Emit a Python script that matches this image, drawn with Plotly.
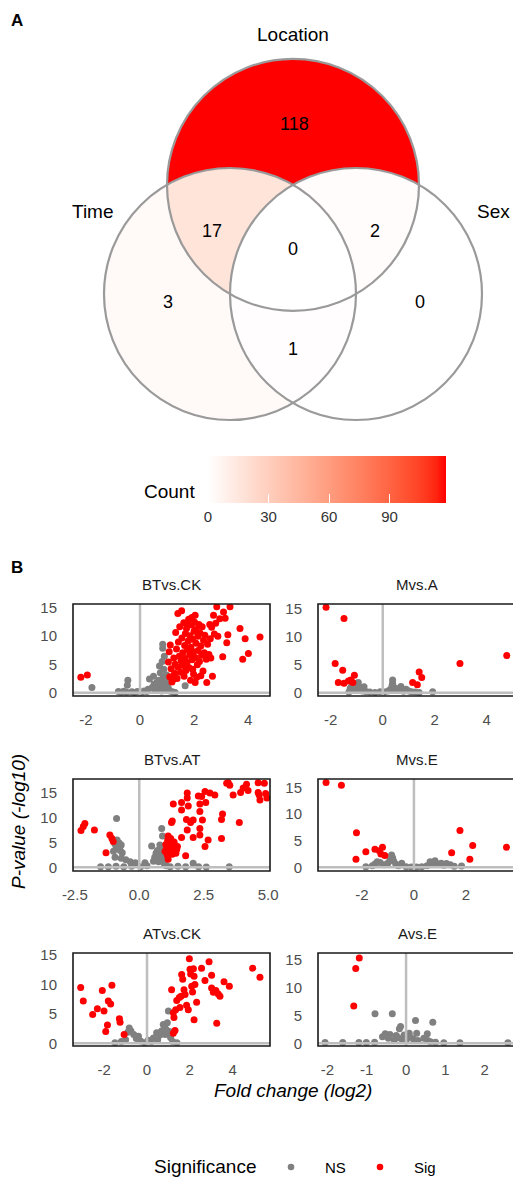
import math
import plotly.graph_objects as go

W, H = 513, 1179

# ------------------------------------------------------------------ data
venn_sets = ["Time", "Location", "Sex"]
venn_regions = ["Time", "Location", "Sex", "Time&Location", "Location&Sex",
                "Time&Sex", "Time&Location&Sex"]
venn_counts = [3, 118, 0, 17, 2, 1, 0]
count_ticks = [0, 30, 60, 90]

panel_names = ["BTvs.CK", "Mvs.A", "BTvs.AT", "Mvs.E", "ATvs.CK", "Avs.E"]

# BTvs.CK
btck_sig_x = [-2.19, -1.95, 1.10, 1.05, 1.08, 1.12, 1.15, 1.18, 1.22, 1.25, 1.28, 1.30, 1.32, 1.35,
              1.37, 1.40, 1.42, 1.45, 1.47, 1.50, 1.52, 1.54, 1.55, 1.58, 1.60, 1.62, 1.63, 1.65,
              1.67, 1.68, 1.70, 1.72, 1.74, 1.76, 1.78, 1.80, 1.82, 1.84, 1.85, 1.87, 1.88, 1.90,
              1.92, 1.93, 1.95, 1.97, 1.98, 2.00, 2.02, 2.04, 2.04, 2.05, 2.07, 2.08, 2.10, 2.12,
              2.14, 2.15, 2.18, 2.20, 2.22, 2.25, 2.28, 2.30, 2.33, 2.35, 2.38, 2.40, 2.45, 2.47,
              2.50, 2.55, 2.58, 2.60, 2.65, 2.68, 2.72, 2.75, 2.80, 2.84, 2.88, 2.95, 3.06, 3.09,
              3.15, 3.21, 3.25, 3.33, 3.70, 3.80, 3.89, 4.01, 4.44, 1.40, 1.95, 2.25, 1.75, 2.62]
btck_sig_y = [2.7, 3.1, 2.8, 5.4, 7.2, 8.4, 4.2, 1.9, 2.3, 6.1, 3.4, 5.0, 10.6, 7.7,
              2.5, 4.5, 8.9, 6.4, 11.6, 3.6, 5.6, 14.4, 9.6, 7.0, 4.8, 12.3, 2.9, 8.3,
              6.0, 10.4, 3.9, 11.3, 5.3, 7.6, 9.1, 12.9, 4.4, 6.7, 10.0, 2.2, 8.0, 11.9,
              13.2, 5.8, 9.4, 7.2, 3.3, 10.8, 12.4, 13.6, 1.8, 6.2, 8.7, 11.1, 2.7, 4.9,
              9.9, 7.4, 12.0, 5.5, 10.5, 8.2, 6.6, 11.6, 3.8, 9.2, 7.0, 10.1, 5.9, 1.8,
              8.5, 6.7, 12.0, 9.5, 11.5, 2.9, 13.6, 10.3, 12.2, 15.1, 9.9, 13.0, 6.3, 14.2,
              13.1, 8.8, 10.2, 15.1, 11.3, 5.9, 9.5, 6.9, 9.8, 13.9, 4.1, 3.0, 12.1, 6.1]
btck_ns_x = [-1.78, -0.45, -0.47, -0.80, -0.70, -0.60, -0.50, -0.30, -0.20, -0.10, 0.05, 0.15,
             0.25, 0.30, 0.35, 0.45, 0.50, 0.52, 0.55, 0.60, 0.62, 0.65, 0.70, 0.72, 0.75, 0.78,
             0.80, 0.82, 0.84, 0.84, 0.86, 0.88, 0.90, 0.92, 0.95, 0.98, 1.00, 1.05, 1.10, 1.20,
             1.30, 1.67, 1.00]
btck_ns_y = [0.9, 2.2, 1.3, 0.2, 0.1, 0.25, 0.1, 0.15, 0.05, 0.2, 0.1, 0.3,
             0.2, 0.6, 2.4, 0.9, 2.9, 1.5, 0.4, 1.0, 1.8, 0.5, 2.2, 4.7, 3.5, 1.3,
             0.3, 5.5, 8.5, 7.8, 2.7, 4.1, 6.4, 1.7, 0.6, 3.1, 2.0, 0.8, 0.3, 0.15,
             0.05, 1.2, 1.2]

# Mvs.A
mva_sig_x = [-2.18, -1.49, -1.83, -1.54, -1.09, -1.71, -1.49, -1.32, -1.23, -1.15,
             1.15, 1.33, 1.40, 1.50, 2.97, 4.77]
mva_sig_y = [15.2, 13.2, 5.2, 4.0, 3.1, 1.8, 1.7, 2.1, 2.25, 1.8,
             1.8, 1.4, 3.7, 2.7, 5.2, 6.6]
mva_ns_x = [-1.30, -1.25, -1.18, -1.10, -1.05, -0.98, -0.94, -0.90, -0.85, -0.78, -0.72, -0.65,
            -0.50, -0.30, -0.10, 0.05, 0.20, 0.30, 0.36, 0.38, 0.38, 0.45, 0.50, 0.60, 0.70,
            0.73, 0.80, 0.90, 1.00, 1.10, 1.25, 1.40, 1.92]
mva_ns_y = [0.1, 0.8, 1.2, 0.5, 1.6, 1.0, 1.8, 0.4, 0.9, 0.3, 1.07, 0.2,
            0.1, 0.05, 0.15, 0.1, 0.3, 0.6, 1.3, 2.25, 1.66, 0.9, 0.4, 0.7, 1.1,
            0.5, 0.25, 0.6, 0.3, 0.15, 0.1, 0.05, 0.18]

# BTvs.AT
btat_sig_x = [-2.26, -2.17, -2.11, -1.74, -1.29, -1.14, -1.06, -1.01,
              1.00, 1.03, 1.06, 1.08, 1.10, 1.12, 1.14, 1.16, 1.18, 1.20, 1.22, 1.24, 1.26, 1.28,
              1.30, 1.32, 1.35, 1.38, 1.40, 1.42, 1.45, 1.48, 1.12, 1.25, 1.28, 1.32,
              1.64, 1.64, 1.86, 1.86, 1.90, 1.83, 1.99, 2.09, 1.86, 1.64, 1.80, 2.09, 2.29, 2.35,
              2.42, 2.35, 2.45, 2.35, 2.35, 2.55, 2.67, 2.55, 2.74, 2.93, 2.58, 3.19, 3.23, 3.19,
              3.39, 3.45, 3.51, 3.64, 3.88, 3.93, 4.03, 4.16, 4.22, 4.61, 4.61, 4.68, 4.65, 4.85,
              4.90, 4.95]
btat_sig_y = [7.4, 8.2, 8.8, 7.5, 2.9, 6.5, 5.8, 5.2,
              3.2, 4.6, 4.2, 2.5, 5.4, 6.3, 3.7, 4.9, 3.0, 4.4, 5.8, 3.5, 4.0, 2.6,
              4.7, 3.3, 5.1, 3.9, 4.4, 2.8, 3.6, 4.2, 1.6, 9.0, 9.3, 12.7,
              13.0, 11.5, 14.9, 13.9, 12.3, 9.6, 9.0, 9.5, 7.5, 6.0, 2.3, 6.0, 14.3, 12.7,
              14.2, 11.2, 9.5, 7.8, 6.5, 4.2, 5.5, 15.2, 14.9, 14.5, 13.0, 9.6, 10.7, 5.8,
              16.9, 17.0, 16.5, 14.5, 9.0, 15.0, 15.9, 16.7, 15.4, 17.0, 15.0, 13.5, 14.5, 16.9,
              14.8, 13.9]
btat_ns_x = [-0.88, -1.00, -0.95, -0.90, -0.86, -0.82, -0.78, -0.74, -0.70, -0.66, -0.94, -0.70,
             -0.52, -0.35, -0.15, -1.50, -1.20, -0.90, -0.60, -0.30, 0.05, 0.22, 0.30, 0.48,
             0.55, 0.60, 0.65, 0.68, 0.70, 0.72, 0.75, 0.78, 0.80, 0.82, 0.85, 0.87, 0.90,
             0.92, 0.95, 0.98, 1.05, 1.20, 1.50, 1.80, 2.09, 2.30, 2.60, 3.49]
btat_ns_y = [9.8, 3.2, 4.8, 4.2, 5.5, 3.8, 4.9, 3.4, 4.5, 2.9, 2.0, 1.8,
             1.5, 1.1, 0.9, 0.1, 0.1, 0.2, 0.1, 0.2, 0.1, 0.9, 0.3, 4.3,
             1.2, 2.0, 2.8, 1.6, 3.4, 2.3, 1.1, 2.9, 4.5, 1.9, 3.6, 7.8, 6.3,
             2.5, 1.4, 0.6, 0.3, 0.1, 0.2, 0.1, 0.8, 0.1, 0.05, 0.1]

# Mvs.E
mve_sig_x = [-3.38, -2.79, -2.21, -1.85, -2.23, -1.50, -1.33, -1.21, -1.27, -1.12,
             1.45, 1.77, 2.26, 2.15, 3.56]
mve_sig_y = [15.9, 15.4, 6.5, 2.9, 1.5, 3.4, 3.1, 3.75, 2.5, 2.2,
             2.75, 6.9, 4.1, 1.5, 3.75]
mve_ns_x = [-1.85, -1.60, -1.41, -1.50, -1.30, -1.15, -1.00, -0.92, -0.86, -0.82, -0.78, -0.70,
            -0.60, -0.47, -0.30, -0.10, 0.10, 0.30, 0.50, 0.62, 0.72, 0.81, 0.90, 1.05, 1.15,
            1.25, 1.40, 1.55, 1.83]
mve_ns_y = [0.1, 0.3, 1.06, 0.6, 0.9, 0.5, 0.8, 1.4, 2.3, 1.8, 1.2, 0.6,
            0.3, 0.75, 0.1, 0.05, 0.05, 0.1, 0.3, 1.06, 0.7, 1.25, 0.6, 0.75, 0.4,
            0.7, 0.5, 0.2, 0.25]

# ATvs.CK
atck_sig_x = [-3.10, -2.98, -2.54, -2.32, -2.01, -2.09, -1.85, -1.93, -1.81, -1.70, -1.64, -1.29,
              -1.26, -1.07, 1.15, 1.23, 1.26, 1.34, 1.39, 1.51, 1.59, 1.62, 1.67, 1.54, 1.73,
              1.78, 1.85, 1.93, 1.98, 2.01, 2.04, 2.09, 2.13, 2.17, 2.20, 2.24, 2.32, 2.20,
              2.55, 2.71, 2.90, 3.02, 3.02, 3.10, 3.22, 3.33, 3.41, 3.26, 3.60, 3.85, 4.94,
              5.28, 1.23, 1.31]
atck_sig_y = [9.5, 7.2, 4.9, 5.9, 5.5, 9.0, 3.1, 2.0, 7.2, 6.7, 9.9, 4.2,
              3.6, 1.5, 9.1, 5.2, 4.4, 5.7, 7.3, 7.8, 8.0, 11.7, 10.9, 6.1, 9.1,
              8.3, 6.5, 5.7, 14.4, 12.6, 11.8, 9.7, 8.75, 12.7, 4.0, 10.0, 7.0, 11.4,
              12.8, 10.7, 13.9, 11.6, 9.4, 8.7, 9.0, 8.4, 8.0, 3.4, 10.5, 9.7, 12.8,
              11.25, 1.7, 2.2]
atck_ns_x = [1.00, 0.76, 0.83, 0.68, 0.45, 0.30, 0.60, 0.90, 0.95, 1.05, 1.10, 0.85, 0.50,
             0.20, 0.05, -0.10, -0.30, -0.50, -0.62, -0.83, -0.75, -0.90, -1.00, -1.20, -1.50,
             -0.40, 1.20, 1.40]
atck_ns_y = [5.5, 3.2, 2.7, 2.1, 1.8, 0.9, 1.4, 2.3, 3.5, 2.0, 1.0, 1.5, 0.6,
             0.3, 0.5, 0.1, 0.4, 0.8, 1.5, 2.6, 2.1, 1.9, 0.6, 0.3, 0.1,
             1.2, 0.3, 0.1]

# Avs.E
ave_sig_x = [-1.19, -1.28, -1.33]
ave_sig_y = [15.3, 13.4, 6.7]
ave_ns_x = [-0.79, -0.35, 0.24, 0.68, -0.14, -0.17, -0.53, -0.41, -0.25, -0.05, 0.08, 0.27,
            0.54, -0.60, -0.45, -0.30, -0.20, -0.10, 0.00, 0.10, 0.18, 0.30, 0.45, 0.55,
            0.62, 0.75, 0.96, 1.37, -2.06, -1.61, -1.20, -1.01, -0.80, 2.59]
ave_ns_y = [5.3, 5.3, 4.1, 3.8, 3.0, 2.6, 1.7, 1.6, 1.4, 1.5, 1.8, 1.8,
            1.7, 1.2, 0.9, 0.6, 1.0, 0.7, 0.4, 1.1, 0.8, 0.5, 0.9, 0.5,
            0.3, 0.2, 0.1, 0.1, 0.15, 0.15, 0.15, 0.15, 0.2, 0.1]

panel_sig_x = [btck_sig_x, mva_sig_x, btat_sig_x, mve_sig_x, atck_sig_x, ave_sig_x]
panel_sig_y = [btck_sig_y, mva_sig_y, btat_sig_y, mve_sig_y, atck_sig_y, ave_sig_y]
panel_ns_x = [btck_ns_x, mva_ns_x, btat_ns_x, mve_ns_x, atck_ns_x, ave_ns_x]
panel_ns_y = [btck_ns_y, mva_ns_y, btat_ns_y, mve_ns_y, atck_ns_y, ave_ns_y]

x_tickvals = [[-2, 0, 2, 4], [-2, 0, 2, 4], [-2.5, 0.0, 2.5, 5.0],
              [-2, 0, 2], [-2, 0, 2, 4], [-2, -1, 0, 1, 2]]
x_ticktext = [["-2", "0", "2", "4"], ["-2", "0", "2", "4"], ["-2.5", "0.0", "2.5", "5.0"],
              ["-2", "0", "2"], ["-2", "0", "2", "4"], ["-2", "-1", "0", "1", "2"]]
y_tickvals = [0, 5, 10, 15]
y_ticktext = ["0", "5", "10", "15"]

# ------------------------------------------------------------------ layout helpers
FONT = "Liberation Sans, Arial, Helvetica, sans-serif"
TICK_GREY = "#4D4D4D"


def px_x(x):
    return x / W


def px_y(y):
    return 1 - y / H


# panel boxes in pixels (left, right, top, bottom) and axis ranges
panel_boxes = [(73, 270, 604, 696), (318, 513, 604, 696),
               (73, 270, 779, 871), (318, 513, 779, 871),
               (73, 270, 953, 1046), (318, 513, 953, 1046)]
panel_border_right = [1.0, 1.015, 1.0, 1.015, 1.0, 1.015]
panel_title_x = [171.5, 417, 171.5, 417, 171.5, 417]
panel_xrange = [[-2.48, 4.81], [-2.49, 5.01], [-2.57, 5.07],
                [-3.69, 3.81], [-3.46, 5.75], [-2.24, 2.72]]
panel_yrange = [[-0.58, 15.59], [-0.59, 15.78], [-0.74, 17.73],
                [-0.69, 16.57], [-0.46, 15.38], [-0.48, 16.2]]

# ------------------------------------------------------------------ colour helpers (Lab ramp white -> red)
def _lin(c):
    c = c / 255.0
    return c / 12.92 if c <= 0.04045 else ((c + 0.055) / 1.055) ** 2.4


def _gam(c):
    v = 12.92 * c if c <= 0.0031308 else 1.055 * c ** (1 / 2.4) - 0.055
    return int(round(max(0.0, min(1.0, v)) * 255))


def rgb2lab(rgb):
    r, g, b = (_lin(v) for v in rgb)
    X = (0.4124 * r + 0.3576 * g + 0.1805 * b) / 0.95047
    Y = (0.2126 * r + 0.7152 * g + 0.0722 * b) / 1.0
    Z = (0.0193 * r + 0.1192 * g + 0.9505 * b) / 1.08883

    def f(t):
        return t ** (1 / 3) if t > 0.008856 else 7.787 * t + 16 / 116
    fx, fy, fz = f(X), f(Y), f(Z)
    return (116 * fy - 16, 500 * (fx - fy), 200 * (fy - fz))


def lab2rgb(lab):
    L, a, b = lab
    fy = (L + 16) / 116
    fx = fy + a / 500
    fz = fy - b / 200

    def finv(t):
        return t ** 3 if t ** 3 > 0.008856 else (t - 16 / 116) / 7.787
    X, Y, Z = finv(fx) * 0.95047, finv(fy), finv(fz) * 1.08883
    r = 3.2406 * X - 1.5372 * Y - 0.4986 * Z
    g = -0.9689 * X + 1.8758 * Y + 0.0415 * Z
    bb = 0.0557 * X - 0.2040 * Y + 1.0570 * Z
    return "rgb(%d,%d,%d)" % (_gam(r), _gam(g), _gam(bb))


LOW, HIGH = rgb2lab((255, 255, 255)), rgb2lab((255, 0, 0))


def ramp(t):
    return lab2rgb(tuple(LOW[i] + (HIGH[i] - LOW[i]) * t for i in range(3)))


cmax = max(venn_counts)
colorscale = [[k / 24, ramp(k / 24)] for k in range(25)]

# ------------------------------------------------------------------ Venn geometry
R = 1.0
centers = [(-0.5, 0.0), (0.0, math.sqrt(3) / 2), (0.5, 0.0)]  # Time, Location, Sex


def circle_intersections(c1, c2):
    (x1, y1), (x2, y2) = c1, c2
    d = math.hypot(x2 - x1, y2 - y1)
    a = d / 2
    h = math.sqrt(R * R - a * a)
    mx, my = x1 + (x2 - x1) * a / d, y1 + (y2 - y1) * a / d
    ux, uy = -(y2 - y1) / d, (x2 - x1) / d
    return [(mx + h * ux, my + h * uy), (mx - h * ux, my - h * uy)]


def inside(p, c):
    return math.hypot(p[0] - c[0], p[1] - c[1]) < R - 1e-9


arcs = []
for i, c in enumerate(centers):
    angs = []
    for j, c2 in enumerate(centers):
        if j != i:
            for p in circle_intersections(c, c2):
                angs.append(math.atan2(p[1] - c[1], p[0] - c[0]) % (2 * math.pi))
    angs.sort()
    for k in range(len(angs)):
        a0 = angs[k]
        a1 = angs[(k + 1) % len(angs)]
        if a1 <= a0:
            a1 += 2 * math.pi
        arcs.append((i, a0, a1))


def arc_points(i, a0, a1, reverse, n=90):
    cx, cy = centers[i]
    pts = [(cx + R * math.cos(a0 + (a1 - a0) * t / n), cy + R * math.sin(a0 + (a1 - a0) * t / n))
           for t in range(n + 1)]
    return pts[::-1] if reverse else pts


def region_polygon(mask):
    segs = []
    for (i, a0, a1) in arcs:
        am = (a0 + a1) / 2
        pm = (centers[i][0] + R * math.cos(am), centers[i][1] + R * math.sin(am))
        if all(inside(pm, centers[j]) == mask[j] for j in range(3) if j != i):
            segs.append(arc_points(i, a0, a1, reverse=not mask[i]))
    poly = list(segs.pop(0))
    while segs:
        end = poly[-1]
        k = min(range(len(segs)),
                key=lambda s: math.hypot(segs[s][0][0] - end[0], segs[s][0][1] - end[1]))
        poly.extend(segs.pop(k)[1:])
    return poly


# ------------------------------------------------------------------ figure
fig = go.Figure()
VX, VY = "x7", "y7"

for name, cnt in zip(venn_regions, venn_counts):
    members = name.split("&")
    mask = [s in members for s in venn_sets]
    poly = region_polygon(mask)
    fig.add_trace(go.Scatter(
        x=[p[0] for p in poly], y=[p[1] for p in poly], xaxis=VX, yaxis=VY,
        mode="lines", fill="toself", fillcolor=ramp(cnt / cmax),
        line=dict(width=0), hoverinfo="skip", showlegend=False))

# colour bar driven by the region counts
fig.add_trace(go.Scatter(
    x=[0] * len(venn_counts), y=[0] * len(venn_counts), xaxis=VX, yaxis=VY, mode="markers",
    marker=dict(color=venn_counts, cmin=0, cmax=cmax, colorscale=colorscale, size=1, opacity=0,
                showscale=True,
                colorbar=dict(orientation="h", x=px_x(327), xanchor="center",
                              y=px_y(456), yanchor="top", len=238 / W, lenmode="fraction",
                              thickness=47, thicknessmode="pixels", outlinewidth=0,
                              xpad=0, ypad=0, tickvals=count_ticks, ticks="inside",
                              ticklen=9, tickwidth=1, tickcolor="white",
                              tickfont=dict(family=FONT, size=15, color="#333333"))),
    hoverinfo="skip", showlegend=False))

# volcano panels
shapes = []
annotations = []
for k in range(6):
    ax = "" if k == 0 else str(k + 1)
    fig.add_trace(go.Scatter(
        x=panel_ns_x[k], y=panel_ns_y[k], xaxis="x" + ax, yaxis="y" + ax, mode="markers",
        marker=dict(color="#808080", size=7, line=dict(width=0)), name="NS", showlegend=False))
    fig.add_trace(go.Scatter(
        x=panel_sig_x[k], y=panel_sig_y[k], xaxis="x" + ax, yaxis="y" + ax, mode="markers",
        marker=dict(color="#FF0000", size=7, line=dict(width=0)), name="Sig", showlegend=False))
    l, r, t, b = panel_boxes[k]
    fig.layout["xaxis" + ax] = dict(
        domain=[px_x(l), px_x(r)], range=panel_xrange[k], anchor="y" + ax,
        showgrid=False, zeroline=False, showline=False,
        tickvals=x_tickvals[k], ticktext=x_ticktext[k], ticks="outside", ticklen=10,
        tickcolor="rgba(0,0,0,0)", tickfont=dict(family=FONT, size=15, color=TICK_GREY),
        fixedrange=True)
    fig.layout["yaxis" + ax] = dict(
        domain=[px_y(b), px_y(t)], range=panel_yrange[k], anchor="x" + ax,
        showgrid=False, zeroline=False, showline=False,
        tickvals=y_tickvals, ticktext=y_ticktext, ticks="outside", ticklen=12,
        tickcolor="rgba(0,0,0,0)", tickfont=dict(family=FONT, size=15, color=TICK_GREY),
        fixedrange=True)
    xr = "x" + ax
    yr = "y" + ax
    shapes.append(dict(type="line", xref=xr, yref=yr + " domain", x0=0, x1=0, y0=0, y1=1,
                       line=dict(color="#BEBEBE", width=2.5), layer="above"))
    shapes.append(dict(type="line", xref=xr + " domain", yref=yr, x0=0, x1=panel_border_right[k],
                       y0=0, y1=0, line=dict(color="#BEBEBE", width=2.5), layer="above"))
    shapes.append(dict(type="rect", xref=xr + " domain", yref=yr + " domain", x0=0,
                       x1=panel_border_right[k], y0=0, y1=1,
                       line=dict(color="#1A1A1A", width=1.6), layer="above"))
    annotations.append(dict(text=panel_names[k], x=px_x(panel_title_x[k]), y=px_y(t - 20),
                            xref="paper", yref="paper", showarrow=False,
                            xanchor="center", yanchor="middle",
                            font=dict(family=FONT, size=15, color="#1A1A1A")))

# Venn axes: 126 px per unit radius
SCALE = 126.0
fig.layout["xaxis7"] = dict(domain=[0, 1], range=[(0 - 293) / SCALE, (W - 293) / SCALE],
                            anchor="y7", visible=False, fixedrange=True)
fig.layout["yaxis7"] = dict(domain=[px_y(440), 1], range=[(294 - 440) / SCALE, 294 / SCALE],
                            anchor="x7", visible=False, fixedrange=True)

for (cx, cy) in centers:
    shapes.append(dict(type="circle", xref="x7", yref="y7", x0=cx - R, x1=cx + R,
                       y0=cy - R, y1=cy + R, line=dict(color="#9A9A9A", width=2.2),
                       layer="above"))

# white colour-bar ticks on the top edge
for v in count_ticks[1:]:
    xp = 208 + (446 - 208) * v / cmax
    shapes.append(dict(type="line", xref="paper", yref="paper", x0=px_x(xp), x1=px_x(xp),
                       y0=px_y(456), y1=px_y(465), line=dict(color="white", width=1)))

# legend dots
LEG_Y = 1167
for xc, col in [(291, "#808080"), (380, "#FF0000")]:
    shapes.append(dict(type="circle", xref="paper", yref="paper",
                       x0=px_x(xc - 3.3), x1=px_x(xc + 3.3), y0=px_y(LEG_Y + 3.3),
                       y1=px_y(LEG_Y - 3.3), fillcolor=col, line=dict(width=0)))

# Venn labels (set names and counts), positions in pixels
set_label_pos = {"Location": (293, 34), "Time": (92.5, 211), "Sex": (493.5, 211)}
region_label_pos = [(168, 302), (294, 124), (420, 302), (212, 231), (375, 231),
                    (293, 349), (293, 249)]


def ann(text, x, y, size, color="black", bold=False, italic=False, angle=0, xanchor="center"):
    if bold:
        text = "<b>%s</b>" % text
    if italic:
        text = "<i>%s</i>" % text
    annotations.append(dict(text=text, x=px_x(x), y=px_y(y), xref="paper", yref="paper",
                            showarrow=False, xanchor=xanchor, yanchor="middle", textangle=angle,
                            font=dict(family=FONT, size=size, color=color)))


for s in venn_sets:
    ann(s, *set_label_pos[s], 19)
for (x, y), cnt in zip(region_label_pos, venn_counts):
    ann(str(cnt), x, y, 18)

ann("A", 17, 21, 17, bold=True)
ann("B", 17, 567, 17, bold=True)
ann("Count", 169, 492, 19)
ann("P-value (-log10)", 18, 822, 19, italic=True, angle=-90)
ann("Fold change (log2)", 293, 1090, 19, italic=True)
ann("Significance", 204.5, LEG_Y - 1, 19)
ann("NS", 335, LEG_Y, 15)
ann("Sig", 425, LEG_Y, 15)

fig.update_layout(
    width=W, height=H,
    margin=dict(l=0, r=0, t=0, b=0, autoexpand=False),
    paper_bgcolor="white", plot_bgcolor="white",
    showlegend=False, shapes=shapes, annotations=annotations,
    font=dict(family=FONT),
)

fig.write_html("out.html", config={"displayModeBar": False},
               post_script="document.body.style.margin='0';document.body.style.overflow='hidden';")
